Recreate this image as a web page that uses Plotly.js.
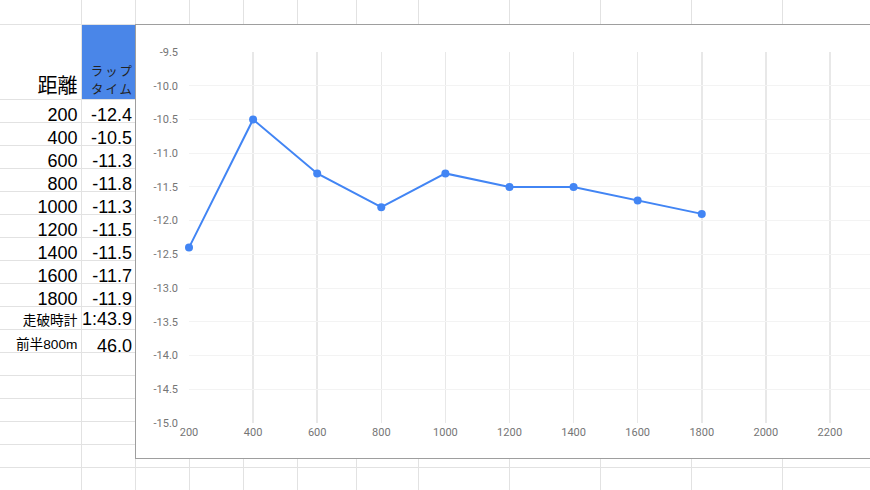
<!DOCTYPE html>
<html>
<head>
<meta charset="utf-8">
<script src="https://cdn.plot.ly/plotly-3.0.1.min.js"></script>
<style>
html,body{margin:0;padding:0;background:#fff;}
#sheet{position:relative;width:870px;height:490px;overflow:hidden;background:#fff;}
#grid{position:absolute;left:0;top:0;}
#lapHead{position:absolute;right:736px;top:61.6px;font-family:"Noto Sans CJK JP",sans-serif;font-size:12.4px;letter-spacing:2px;line-height:18px;color:#222;text-align:right;white-space:nowrap;}
#frame{position:absolute;left:135px;top:24px;width:800px;height:433px;border:1px solid #9e9e9e;border-right:none;background:#fff;}
#chart{position:absolute;left:0;top:0;width:734px;height:433px;}
</style>
</head>
<body>
<div id="sheet">
  <svg id="grid" width="870" height="490" xmlns="http://www.w3.org/2000/svg"></svg>
  <div id="lapHead"></div>
  <div id="frame"><div id="chart"></div></div>
</div>
<script>
// ---- data ----
const headerDistance = '距離';
const headerLap = ['ラップ', 'タイム'];
const distances = [200, 400, 600, 800, 1000, 1200, 1400, 1600, 1800];
const lapTimes = [-12.4, -10.5, -11.3, -11.8, -11.3, -11.5, -11.5, -11.7, -11.9];
const lapLabels = ['-12.4', '-10.5', '-11.3', '-11.8', '-11.3', '-11.5', '-11.5', '-11.7', '-11.9'];
const extraLabels = ['走破時計', '前半800m'];
const extraValues = ['1:43.9', '46.0'];
const xTicks = [200, 400, 600, 800, 1000, 1200, 1400, 1600, 1800, 2000, 2200];
const xTickLabels = ['200', '400', '600', '800', '1000', '1200', '1400', '1600', '1800', '2000', '2200'];
const yTicks = [-9.5, -10, -10.5, -11, -11.5, -12, -12.5, -13, -13.5, -14, -14.5, -15];
const yTickLabels = ['-9.5', '-10.0', '-10.5', '-11.0', '-11.5', '-12.0', '-12.5', '-13.0', '-13.5', '-14.0', '-14.5', '-15.0'];

// ---- spreadsheet background ----
const NS = 'http://www.w3.org/2000/svg';
const svg = document.getElementById('grid');
function el(tag, attrs, text, parent) {
  const e = document.createElementNS(NS, tag);
  for (const k in attrs) e.setAttribute(k, attrs[k]);
  if (text !== undefined && text !== null) e.textContent = text;
  (parent || svg).appendChild(e);
  return e;
}
const GRID = '#e2e2e2';
function hline(y, x1, x2) { el('line', {x1: x1, x2: x2, y1: y, y2: y, stroke: GRID, 'stroke-width': 1}); }
function vline(x, y1, y2) { el('line', {x1: x, x2: x, y1: y1, y2: y2, stroke: GRID, 'stroke-width': 1}); }

// header blue cell
el('rect', {x: 82, y: 25, width: 54, height: 74, fill: '#4a86e8'});

hline(24.5, 0, 870);
vline(81.5, 0, 490);
const colLines = [135.5, 189.5, 243.5, 297.5, 356.5, 418.5, 509.5, 600.5, 691.5, 782.5];
colLines.forEach(x => { vline(x, 0, 24); vline(x, 458, 490); });
for (let k = 0; k <= 16; k++) {
  const y = 99.5 + 23 * k;
  hline(y, 0, 136);
}
hline(467.5, 136, 870);

const LAT = '"Liberation Sans", Arial, "Noto Sans CJK JP", sans-serif';
const CJK = '"Noto Sans CJK JP", "Liberation Sans", sans-serif';
function txt(x, y, s, size, family, color) {
  return el('text', {x: x, y: y, 'text-anchor': 'end', 'font-family': family, 'font-size': size, fill: color || '#000'}, s);
}
txt(77.5, 92.5, headerDistance, 20, CJK);
// two-line header as one wrapped text block
document.getElementById('lapHead').innerHTML = headerLap.join('<br>');

distances.forEach((d, i) => {
  const base = 121 + 23 * i;
  txt(77.5, base, String(d), 18, LAT);
  txt(132, base, lapLabels[i], 18, LAT);
});
txt(77.5, 324.5, extraLabels[0], 13.7, CJK);
txt(132, 325, extraValues[0], 18, LAT);
txt(77.5, 348.5, extraLabels[1], 13.7, LAT);
txt(132, 352, extraValues[1], 18, LAT);

// ---- chart ----
const trace = {
  x: distances,
  y: lapTimes,
  type: 'scatter',
  mode: 'lines+markers',
  line: {color: '#4285f4', width: 2},
  marker: {color: '#4285f4', size: 8},
  cliponaxis: false,
  hoverinfo: 'none'
};
const layout = {
  width: 734,
  height: 433,
  margin: {l: 53, r: 0, t: 27, b: 35},
  paper_bgcolor: '#ffffff',
  plot_bgcolor: '#ffffff',
  showlegend: false,
  font: {family: 'Roboto, "Liberation Sans", sans-serif', size: 11, color: '#757575'},
  xaxis: {
    range: [200, 2325],
    tickmode: 'array', tickvals: xTicks, ticktext: xTickLabels,
    showgrid: true, gridcolor: '#e8e8e8', gridwidth: 1.5,
    zeroline: false, showline: false, ticks: '',
    ticklabelstandoff: 1, fixedrange: true
  },
  yaxis: {
    range: [-15, -9.5],
    tickmode: 'array', tickvals: yTicks, ticktext: yTickLabels,
    showgrid: true, gridcolor: '#f3f3f3', gridwidth: 1,
    zeroline: false, showline: false, ticks: '',
    ticklabelstandoff: 10, fixedrange: true
  }
};
Plotly.newPlot('chart', [trace], layout, {displayModeBar: false, staticPlot: true});
</script>
</body>
</html>
